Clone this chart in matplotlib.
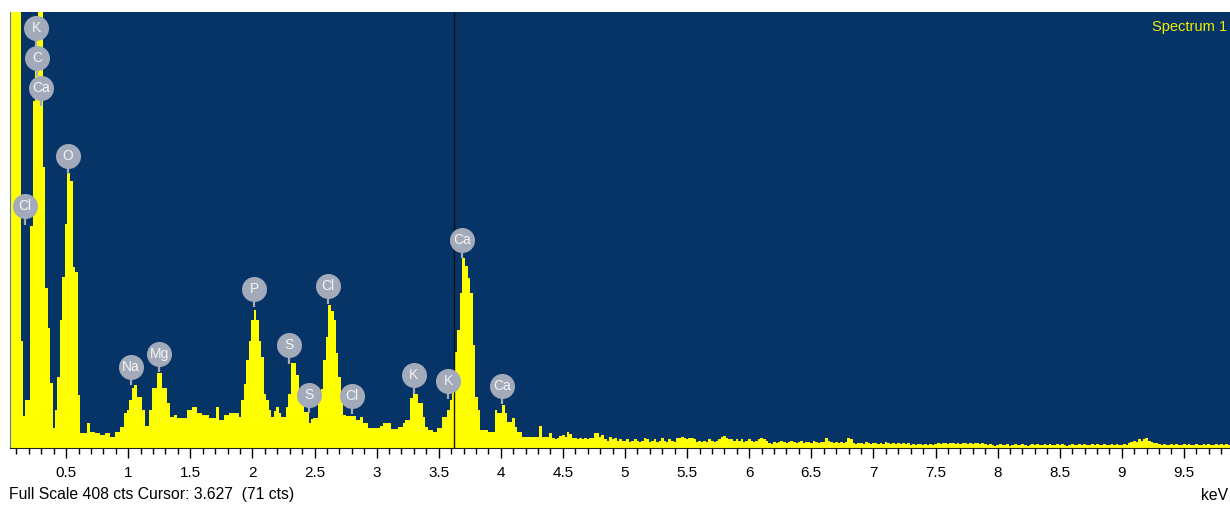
import numpy as np
import matplotlib
matplotlib.use('Agg')
import matplotlib.pyplot as plt

# spectrum channels: 20 eV wide, first channel starts at 0.05 keV
start_kev = 0.05
chan_kev = 0.02
counts = [
    430, 470, 460, 430, 100, 30, 45, 45, 208, 325,
    400, 500, 500, 263, 150, 112, 61, 19, 36, 66,
    120, 160, 210, 257, 250, 169, 165, 50, 14, 14,
    14, 23, 15, 15, 14, 14, 12, 12, 14, 14,
    10, 10, 15, 15, 20, 20, 33, 36, 45, 56,
    59, 48, 48, 36, 21, 21, 36, 56, 56, 70,
    70, 56, 56, 42, 29, 29, 31, 28, 28, 28,
    28, 36, 36, 38, 38, 33, 33, 31, 31, 31,
    28, 28, 28, 38, 26, 26, 31, 31, 33, 33,
    33, 33, 29, 45, 60, 82, 100, 120, 129, 120,
    100, 85, 51, 45, 36, 29, 35, 38, 33, 29,
    29, 38, 51, 80, 80, 68, 48, 48, 34, 34,
    23, 27, 28, 28, 45, 55, 82, 104, 134, 128,
    120, 89, 66, 50, 31, 30, 30, 30, 30, 26,
    26, 29, 23, 23, 19, 19, 19, 19, 19, 21,
    23, 23, 23, 18, 18, 18, 20, 20, 23, 26,
    26, 47, 51, 51, 42, 42, 29, 20, 17, 17,
    15, 15, 19, 19, 29, 29, 36, 45, 71, 90,
    110, 145, 178, 170, 159, 145, 96, 48, 36, 17,
    17, 17, 15, 15, 15, 36, 33, 33, 40, 33,
    24, 24, 28, 20, 15, 15, 10, 10, 10, 10,
    10, 10, 10, 21, 10, 10, 10, 14, 9, 8,
    9, 11, 12, 10, 15, 13, 9, 9, 8, 9,
    8, 9, 8, 9, 9, 14, 14, 10, 12, 8,
    7, 10, 8, 9, 7, 8, 7,
    # 5.00 keV onwards
    7, 8, 6, 7, 8, 7, 6, 7, 9, 8, 6, 7, 8, 6, 7, 9, 7, 6, 8, 7, 6,
    9, 9, 10, 9, 8, 9, 9, 8,
    6, 7, 6, 7, 6, 8, 7, 6, 7, 8,
    10, 11, 9, 8,
    8, 7, 8, 7, 8, 6, 7, 8, 7, 6, 7, 8,
    9, 8, 7,
    5, 4, 6, 5, 6, 7, 6, 5, 6, 7, 6, 5, 6, 7, 5, 6, 6, 5, 7, 6, 5, 6, 6,
    9, 7,
    6, 5, 6, 5, 6, 5, 6,
    9, 8,
    5, 4, 5, 5, 4, 6, 5, 4, 5, 5, 4, 5, 4, 6, 5, 4, 5, 4, 5, 4, 5, 4, 5,
    3, 4, 3, 4, 4, 3, 4, 3, 4, 3, 4,
    5, 4, 5, 5, 4, 5, 5, 4, 5, 4, 5, 5, 4, 5, 4, 5, 5, 4, 5, 4,
    3, 4, 3, 2, 3, 4, 3, 3, 4, 2, 3, 4, 3, 3, 4, 3, 2, 3, 4, 3,
    4, 3, 3, 4, 3, 4, 3, 3, 4, 3, 4, 3, 2, 3, 4, 3, 3, 4, 3, 4, 3, 3, 4, 3, 4, 3, 3, 4, 3, 3, 4, 3, 4, 3, 3, 4, 3,
    5, 6, 7, 6, 8, 7, 8, 9, 7, 6, 5, 5,
    4, 3, 4, 3, 3, 4, 3, 4, 3, 3, 4, 3, 4, 3, 3, 4, 3, 3, 4, 3, 4, 3, 3, 4, 3, 4, 3, 4, 3,
]

# element markers: name, energy (keV), marker height (cts)
peak_names = ['K', 'C', 'Ca', 'Cl', 'O', 'Na', 'Mg', 'P', 'S', 'S', 'Cl', 'Cl', 'K', 'K', 'Ca', 'Ca']
peak_kev = [0.258, 0.266, 0.298, 0.169, 0.515, 1.023, 1.248, 2.013, 2.295, 2.456,
            2.609, 2.802, 3.301, 3.575, 3.688, 4.010]
peak_cts = [393, 365, 337, 226, 273, 76, 88, 149, 96, 50,
            152, 49, 68, 63, 195, 58]

full_scale = 408
cursor_kev = 3.627
cursor_cts = 71

chan_left = start_kev + chan_kev * np.arange(len(counts))

fig = plt.figure(figsize=(12.3, 5.05), dpi=100)
ax = fig.add_axes([10 / 1230, 57 / 505, 1220 / 1230, 436 / 505])
ax.set_facecolor('#073467')

# channels as touching bars (slightly wider so no seams show)
ax.bar(chan_left, counts, width=chan_kev * 1.15, align='edge',
       color='#ffff00', lw=0, zorder=2)
ax.axvline(cursor_kev, color='#111111', lw=1, zorder=3)

# peak labels
for name, e, c in zip(peak_names, peak_kev, peak_cts):
    ax.plot([e, e], [c, c - 17], color='#a3abbb', lw=1.6, zorder=4, solid_capstyle='butt')
    ax.plot(e, c, 'o', ms=17, color='#a3abbb', mec='#a3abbb', zorder=5)
    ax.text(e, c, name, ha='center', va='center', color='#f4f4f4',
            fontsize=10, family='Liberation Sans', zorder=6)

ax.text(0.998, 0.965, 'Spectrum 1', transform=ax.transAxes, ha='right', va='center',
        color='#f0f000', fontsize=10.5, family='Liberation Sans')

ax.set_xlim((10 - 4) / 124.2, (1230 - 4) / 124.2)
ax.set_ylim(0, full_scale)
ax.set_xticks(np.arange(0.5, 9.6, 0.5))
ax.set_xticklabels(['%g' % t for t in np.arange(0.5, 9.6, 0.5)],
                   fontsize=11, family='Liberation Sans')
ax.set_xticks(np.arange(0.1, 9.85, 0.1), minor=True)
ax.tick_params(axis='x', which='major', length=7, width=1, pad=6, direction='out')
ax.tick_params(axis='x', which='minor', length=4, width=1, direction='out')
ax.set_yticks([])
for s in ['top', 'right']:
    ax.spines[s].set_visible(False)
ax.spines['left'].set_color('#5a7aa8')
ax.spines['bottom'].set_color('#222222')
ax.spines['bottom'].set_linewidth(0.8)

fig.text(9 / 1230, 10 / 505, 'Full Scale %d cts Cursor: %.3f  (%d cts)' % (full_scale, cursor_kev, cursor_cts),
         ha='left', va='center', fontsize=11.3, family='Liberation Sans')
fig.text(1228 / 1230, 10 / 505, 'keV', ha='right', va='center', fontsize=11.3, family='Liberation Sans')

fig.savefig('out.png', dpi=100)
